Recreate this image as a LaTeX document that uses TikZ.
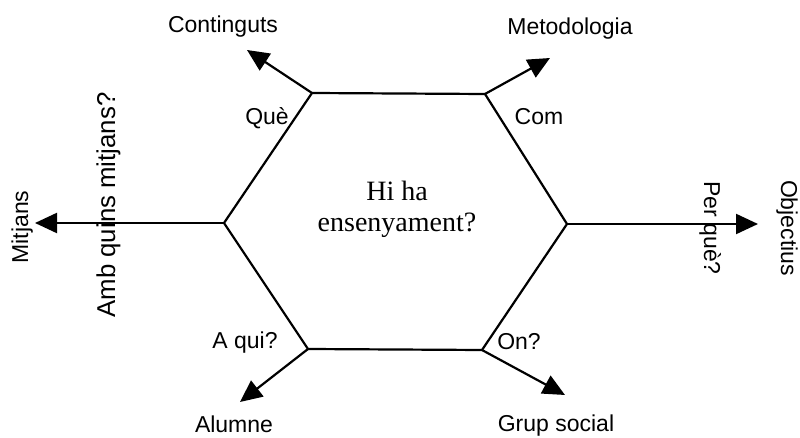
\documentclass[tikz,border=0pt]{standalone}
\usepackage{fontspec}
\setmainfont{Liberation Serif}
\setsansfont{Liberation Sans}
\usetikzlibrary{arrows.meta}

\begin{document}
\begin{tikzpicture}[x=0.5pt, y=-0.5pt,
      lbl/.style={font=\sffamily\fontsize{11.5}{13}\selectfont, inner sep=0pt, anchor=base},
      arr/.style={line width=1.1pt, -{Triangle[length=11pt, width=10pt]}}
    ]
    \useasboundingbox (0,0) rectangle (800,438);

    % hexagon corners
    \foreach \c/\x/\y in {tl/312/93, tr/485/94, r/567/224, br/482/350, bl/308/349, l/224/223} {
      \coordinate (\c) at (\x,\y);
    }
    \draw[line width=1.1pt, line join=miter] (tl) -- (tr) -- (r) -- (br) -- (bl) -- (l) -- cycle;
    \node[align=center, inner sep=0pt, font=\fontsize{14}{15.5}\selectfont] (centre) at (397,209) {Hi ha\\ensenyament?};

    \foreach \c/\x/\y in {tl/247/50, tr/550/58, l/35/223, r/758/224, bl/240/402, br/565/395} {
      \coordinate (\c-tip) at (\x,\y);
      \draw[arr] (\c) -- (\c-tip);
    }

    \node[lbl] (continguts) at (223,33) {Continguts};
    \node[lbl] (metodologia) at (570,35) {Metodologia};
    \node[lbl] (que) at (267,125) {Què};
    \node[lbl] (com) at (539,125) {Com};
    \node[lbl] (aqui) at (245,349) {A qui?};
    \node[lbl] (on) at (519,350) {On?};
    \node[lbl] (alumne) at (234,433) {Alumne};
    \node[lbl] (grup) at (556,432) {Grup social};

    \node[lbl, rotate=90] (mitjans) at (28,227) {Mitjans};
    \node[lbl, rotate=90, font=\sffamily\fontsize{12.9}{14}\selectfont] (amb) at (115,205) {Amb quins mitjans?};
    \node[lbl, rotate=-90] (perque) at (704,228) {Per què?};
    \node[lbl, rotate=-90] (objectius) at (781,228) {Objectius};
  \end{tikzpicture}
\end{document}
